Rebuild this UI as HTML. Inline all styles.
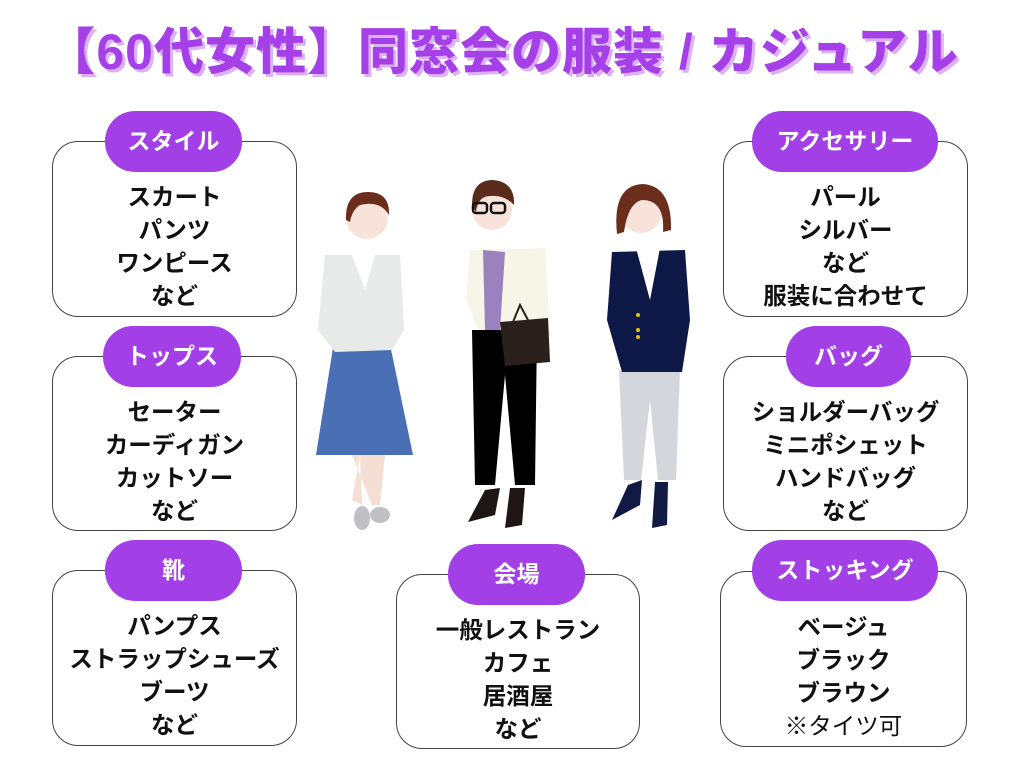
<!DOCTYPE html>
<html><head><meta charset="utf-8"><style>
body{margin:0;width:1024px;height:768px;background:#fff;position:relative;overflow:hidden;font-family:"Liberation Sans","Noto Sans CJK JP",sans-serif}
.t{position:absolute;left:-10px;width:1024px;top:12px;text-align:center;font-size:50px;font-weight:900;color:#a53fe8;text-shadow:3px 3px 0 #dcb0f5;letter-spacing:1px;white-space:nowrap}
.b{position:absolute;border:1.3px solid #444;border-radius:26px;box-sizing:border-box;text-align:center;font-size:23.5px;font-weight:bold;color:#111;line-height:33px;padding-top:39px;white-space:nowrap}
.p{position:absolute;background:#a33fe6;border-radius:30px;color:#fff;font-weight:bold;font-size:23px;text-align:center;line-height:61px;height:61px;white-space:nowrap}
.n{font-weight:normal}
</style></head><body>
<div class="t">【60代女性】同窓会の服装 / カジュアル</div>

<div class="b" style="left:52px;top:141px;width:245px;height:176px">スカート<br>パンツ<br>ワンピース<br>など</div>
<div class="p" style="left:105px;top:111px;width:137px">スタイル</div>
<div class="b" style="left:52px;top:356px;width:245px;height:175px">セーター<br>カーディガン<br>カットソー<br>など</div>
<div class="p" style="left:103px;top:326px;width:138px">トップス</div>
<div class="b" style="left:52px;top:570px;width:245px;height:176px">パンプス<br>ストラップシューズ<br>ブーツ<br>など</div>
<div class="p" style="left:105px;top:540px;width:137px">靴</div>

<div class="b" style="left:396px;top:574px;width:244px;height:175px">一般レストラン<br>カフェ<br>居酒屋<br>など</div>
<div class="p" style="left:448px;top:544px;width:137px">会場</div>

<div class="b" style="left:723px;top:141px;width:245px;height:176px">パール<br>シルバー<br>など<br>服装に合わせて</div>
<div class="p" style="left:752px;top:111px;width:186px">アクセサリー</div>
<div class="b" style="left:723px;top:356px;width:245px;height:175px">ショルダーバッグ<br>ミニポシェット<br>ハンドバッグ<br>など</div>
<div class="p" style="left:786px;top:326px;width:125px">バッグ</div>
<div class="b" style="left:720px;top:571px;width:247px;height:176px">ベージュ<br>ブラック<br>ブラウン<br><span class="n">※タイツ可</span></div>
<div class="p" style="left:752px;top:540px;width:186px">ストッキング</div>

<svg style="position:absolute;left:0;top:0" width="1024" height="768">
<path d="M352 455 L385 455 L380 505 L372 505 Z M360 455 L352 500 L362 505 Z" fill="#f5ded3"/>
<ellipse cx="362" cy="518" rx="8" ry="12" fill="#bfbfc4"/><ellipse cx="380" cy="515" rx="10" ry="8" fill="#bfbfc4"/>
<path d="M335 335 L388 335 L413 455 L316 455 Z" fill="#4b6fb5"/>
<path d="M325 255 L400 255 L404 330 L392 350 L335 352 L318 330 Z" fill="#e8eaea"/>
<path d="M352 255 L375 255 L365 290 Z" fill="#fff"/>
<circle cx="367" cy="218" r="21" fill="#f7e3d9"/>
<path d="M346 220 Q345 192 368 192 Q390 192 389 215 Q380 200 360 205 Q352 210 350 222 Z" fill="#6b2e1d"/>
<path d="M472 330 L537 330 L535 485 L515 485 L505 375 L495 485 L475 485 Z" fill="#000"/>
<path d="M485 490 L500 488 L495 515 L468 522 Z M510 488 L525 488 L522 525 L505 528 Z" fill="#1e1614"/>
<path d="M470 250 L545 248 L550 335 L530 330 L478 330 L466 300 Z" fill="#f7f5e8"/>
<path d="M483 250 L505 252 L500 330 L485 330 Z" fill="#9982be"/>
<path d="M500 322 L548 318 L550 362 L505 366 Z" fill="#2a201d"/>
<path d="M513 322 L520 305 L528 320" stroke="#2a201d" stroke-width="2" fill="none"/>
<circle cx="492" cy="210" r="20" fill="#f7e3d9"/>
<path d="M472 205 Q472 180 493 180 Q515 182 514 205 Q505 195 490 196 Q478 196 476 212 Z" fill="#5a2a1a"/>
<rect x="473" y="203" width="14" height="10" rx="3" fill="none" stroke="#111" stroke-width="2.5"/>
<rect x="491" y="203" width="14" height="10" rx="3" fill="none" stroke="#111" stroke-width="2.5"/>
<path d="M619 370 L680 370 L676 480 L658 480 L650 400 L641 480 L624 480 Z" fill="#d4d6dc"/>
<path d="M628 485 L642 480 L640 505 L612 520 Z M655 482 L668 482 L667 525 L652 528 Z" fill="#101a44"/>
<path d="M612 252 L685 250 L690 320 L682 372 L622 372 L607 320 Z" fill="#0e1846"/>
<path d="M636 248 L660 248 L650 300 Z" fill="#fff"/>
<circle cx="641" cy="212" r="21" fill="#f7e3d9"/>
<path d="M617 234 Q612 185 643 184 Q672 186 671 230 L663 232 Q665 200 642 200 Q628 203 624 232 Z" fill="#6b2e1d"/>
<circle cx="638" cy="315" r="2" fill="#e8c400"/><circle cx="638" cy="330" r="2" fill="#e8c400"/><circle cx="638" cy="337" r="2" fill="#e8c400"/>
</svg>
</body></html>
